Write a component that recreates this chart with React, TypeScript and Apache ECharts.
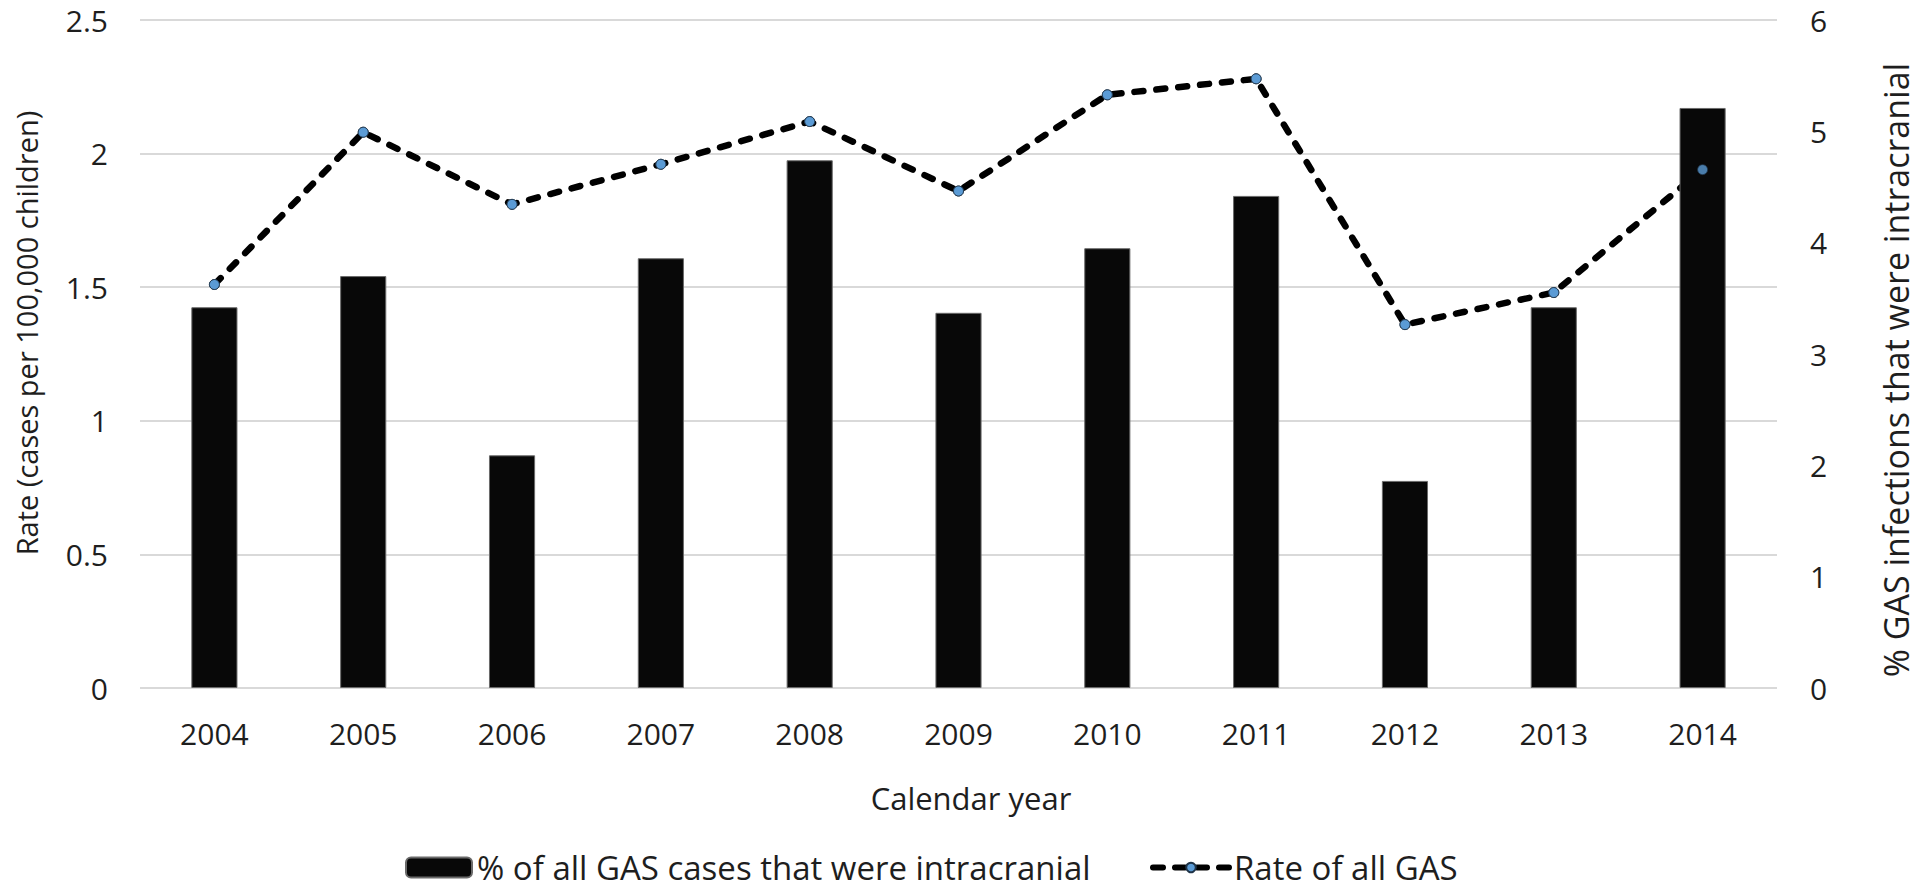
import React, { useEffect, useRef } from "react";
import * as echarts from "echarts";

const years = ["2004", "2005", "2006", "2007", "2008", "2009", "2010", "2011", "2012", "2013", "2014"];
const pctIntracranial = [3.42, 3.7, 2.09, 3.86, 4.74, 3.37, 3.95, 4.42, 1.86, 3.42, 5.21];
const rateAllGAS = [1.51, 2.08, 1.81, 1.96, 2.12, 1.86, 2.22, 2.28, 1.36, 1.48, 1.94];

const barName = "% of all GAS cases that were intracranial";
const lineName = "Rate of all GAS";
const leftTitle = "Rate (cases per 100,000 children)";
const rightTitle = "% GAS infections that were intracranial";
const xTitle = "Calendar year";

const FONT = "'Open Sans', sans-serif";
const TXT = "#1e1e1e";

export default function App() {
  const ref = useRef<HTMLDivElement>(null);
  useEffect(() => {
    if (!ref.current) return;
    const chart = echarts.init(ref.current, undefined, { renderer: "svg" });
    const markerStyle = { color: "#5b9bd5", borderColor: "#1f3347", borderWidth: 1 };
    const legendText = { fontFamily: FONT, fontSize: 33, lineHeight: 33, color: TXT };
    chart.setOption({
      animation: false,
      backgroundColor: "#ffffff",
      textStyle: { fontFamily: FONT, color: TXT },
      grid: { left: 140, right: 143, top: 20, bottom: 204, containLabel: false },
      legend: [
        {
          data: [barName],
          left: 405,
          top: 851,
          padding: 0,
          itemGap: 6,
          itemWidth: 66,
          itemHeight: 20,
          textStyle: legendText,
        },
        {
          data: [lineName],
          left: 1150,
          top: 851,
          padding: 0,
          itemGap: 6,
          itemWidth: 76,
          itemHeight: 12,
          textStyle: legendText,
          lineStyle: { width: 6, type: [10, 12], cap: "round", color: "#000" },
        },
      ],
      xAxis: {
        type: "category",
        data: years,
        axisLine: { show: false },
        axisTick: { show: false },
        axisLabel: { fontFamily: FONT, fontSize: 30, color: TXT, margin: 30 },
      },
      yAxis: [
        {
          type: "value",
          min: 0,
          max: 2.5,
          interval: 0.5,
          axisLine: { show: false },
          axisTick: { show: false },
          axisLabel: { fontFamily: FONT, fontSize: 30, color: TXT, margin: 32 },
          splitLine: { show: true, lineStyle: { color: "#d9d9d9", width: 2 } },
        },
        {
          type: "value",
          min: 0,
          max: 6,
          interval: 1,
          position: "right",
          axisLine: { show: false },
          axisTick: { show: false },
          axisLabel: { fontFamily: FONT, fontSize: 30, color: TXT, margin: 33 },
          splitLine: { show: false },
        },
      ],
      series: [
        {
          name: barName,
          type: "bar",
          yAxisIndex: 1,
          data: pctIntracranial,
          barWidth: "31%",
          z: 2,
          itemStyle: { color: "#080808", borderColor: "#6a6a6a", borderWidth: 1 },
        },
        {
          name: lineName,
          type: "line",
          yAxisIndex: 0,
          data: rateAllGAS,
          z: 1,
          symbol: "circle",
          symbolSize: 10,
          itemStyle: markerStyle,
          lineStyle: { color: "#000000", width: 6.5, type: [9, 13], cap: "round" },
        },
        {
          name: "markers",
          type: "scatter",
          yAxisIndex: 0,
          data: rateAllGAS,
          z: 3,
          symbol: "circle",
          symbolSize: 10,
          itemStyle: markerStyle,
        },
      ],
      graphic: [
        {
          type: "text",
          x: 26,
          y: 333,
          rotation: Math.PI / 2,
          style: { text: leftTitle, font: `29px ${FONT}`, fill: TXT, textAlign: "center", textVerticalAlign: "middle" },
        },
        {
          type: "text",
          x: 1896,
          y: 370,
          rotation: Math.PI / 2,
          style: { text: rightTitle, font: `34px ${FONT}`, fill: TXT, textAlign: "center", textVerticalAlign: "middle" },
        },
        {
          type: "text",
          x: 971,
          y: 798,
          style: { text: xTitle, font: `31px ${FONT}`, fill: TXT, textAlign: "center", textVerticalAlign: "middle" },
        },
      ],
    });
    return () => chart.dispose();
  }, []);
  return (
    <div
      ref={ref}
      style={{ position: "fixed", left: 0, top: 0, width: 1920, height: 892 }}
    />
  );
}
